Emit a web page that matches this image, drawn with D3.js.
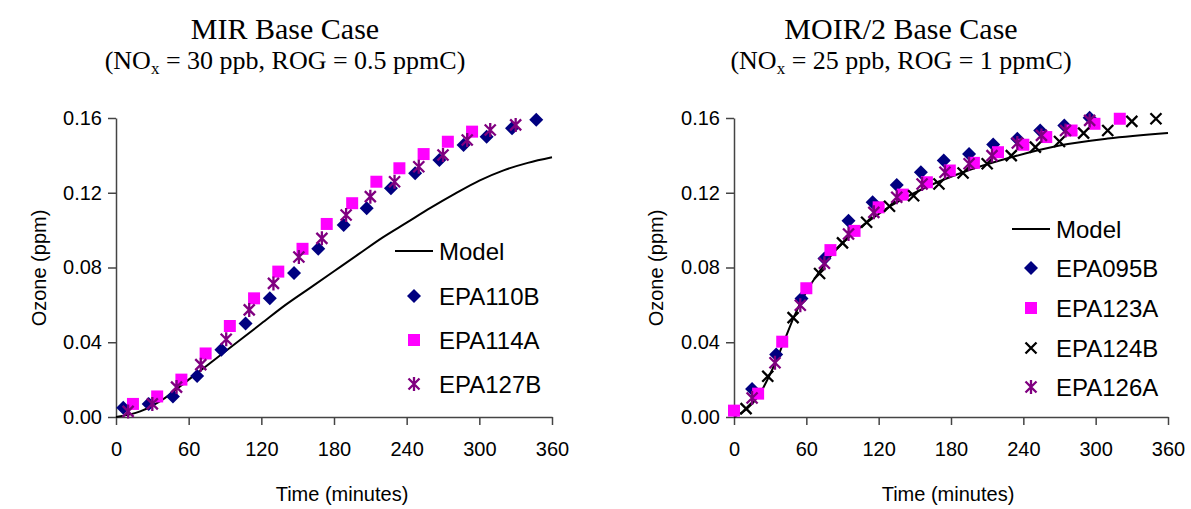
<!DOCTYPE html>
<html>
<head>
<meta charset="utf-8">
<script src="https://cdn.jsdelivr.net/npm/d3@7"></script>
<style>
  body { margin: 0; background: #fff; }
  text { font-family: "Liberation Sans", Arial, sans-serif; }
  .title { font-family: "Liberation Serif", "Times New Roman", serif; }
</style>
</head>
<body>
<div class="chart"></div>
<script>
// ---- data (time in minutes, ozone in ppm) ----
var xTicks = [0, 60, 120, 180, 240, 300, 360];
var yTicks = [0, 0.04, 0.08, 0.12, 0.16];

// MIR base case
var mirModelT = [0, 20, 40, 60, 80, 100, 120, 140, 160, 180, 200, 220, 240, 260, 280, 300, 320, 340, 360];
var mirModelV = [0, 0.003, 0.010, 0.020, 0.030, 0.040, 0.050, 0.060, 0.069, 0.078, 0.087, 0.096, 0.104, 0.112, 0.1195, 0.1265, 0.132, 0.136, 0.139];

var epa110bT = [6, 27, 47, 67, 87, 107, 127, 147, 167, 188, 207, 227, 247, 267, 287, 306, 327, 347];
var epa110bV = [0.005, 0.007, 0.011, 0.022, 0.036, 0.050, 0.0635, 0.077, 0.090, 0.1027, 0.1117, 0.1224, 0.1304, 0.1375, 0.1456, 0.150, 0.1545, 0.159];

var epa114aT = [14, 34, 54, 74, 94, 114, 134, 154, 174, 195, 215, 234, 254, 274, 294];
var epa114aV = [0.007, 0.011, 0.020, 0.034, 0.0487, 0.0635, 0.0778, 0.090, 0.1033, 0.1144, 0.1259, 0.1331, 0.1407, 0.1473, 0.1527];

var epa127bT = [10, 30, 50, 70, 91, 110, 130, 151, 170, 190, 210, 230, 250, 270, 290, 309, 330];
var epa127bV = [0.003, 0.007, 0.016, 0.028, 0.0416, 0.0573, 0.0715, 0.0856, 0.0956, 0.1081, 0.1179, 0.1259, 0.1339, 0.1402, 0.1482, 0.1536, 0.1563];

// MOIR/2 base case
var moirModelT = [0, 10, 20, 30, 40, 50, 60, 70, 80, 90, 100, 110, 130, 150, 170, 190, 230, 270, 310, 360];
var moirModelV = [0, 0.004, 0.011, 0.023, 0.038, 0.054, 0.067, 0.077, 0.086, 0.093, 0.099, 0.104, 0.113, 0.120, 0.126, 0.131, 0.139, 0.1453, 0.149, 0.152];

var epa095bT = [15, 35, 56, 75, 95, 115, 135, 155, 174, 195, 215, 235, 254, 274, 295];
var epa095bV = [0.015, 0.0334, 0.0634, 0.0848, 0.105, 0.1149, 0.1242, 0.131, 0.1372, 0.1407, 0.1458, 0.1489, 0.1533, 0.156, 0.1602];

var epa123aT = [0, 20, 40, 60, 80, 100, 120, 140, 160, 179, 199, 219, 240, 259, 280, 299, 320];
var epa123aV = [0.0034, 0.0125, 0.0403, 0.0689, 0.0893, 0.0996, 0.1122, 0.119, 0.1256, 0.1319, 0.136, 0.1417, 0.1457, 0.1498, 0.1533, 0.1569, 0.1596];

var epa124bT = [10, 28, 49, 71, 90, 110, 129, 149, 170, 190, 210, 230, 250, 270, 290, 310, 330, 350];
var epa124bV = [0.0045, 0.0218, 0.0532, 0.0768, 0.0932, 0.1042, 0.1128, 0.1184, 0.1247, 0.1306, 0.1355, 0.1399, 0.1444, 0.1474, 0.1519, 0.1533, 0.1582, 0.1596];

var epa126aT = [15, 34, 55, 75, 95, 116, 135, 156, 175, 195, 214, 235, 255, 275, 295];
var epa126aV = [0.0102, 0.029, 0.0598, 0.0823, 0.0979, 0.1095, 0.1176, 0.1247, 0.131, 0.1355, 0.1399, 0.1466, 0.1507, 0.1533, 0.1587];

function zipSeries(t, v) {
  return t.map(function(d, i) { return { t: d, v: v[i] }; });
}

// marker shapes
var markers = {
  diamond: { fill: "#000080", path: "M0,-7L7,0L0,7L-7,0Z" },
  square: { fill: "#FF00FF", path: "M-6,-6H6V6H-6Z" },
  cross: { stroke: "#000", path: "M-5.5,-5.5L5.5,5.5M-5.5,5.5L5.5,-5.5" },
  star: { stroke: "#800080", path: "M-5.5,-5.5L5.5,5.5M-5.5,5.5L5.5,-5.5M0,-7V7" }
};

function drawMarker(g, type, x, y) {
  var m = markers[type];
  var p = g.append("path")
    .attr("d", m.path)
    .attr("transform", "translate(" + x + "," + y + ")");
  if (m.fill) p.attr("fill", m.fill);
  else p.attr("fill", "none").attr("stroke", m.stroke).attr("stroke-width", 2.3);
}

var svg = d3.select(".chart").append("svg")
  .attr("width", 1191)
  .attr("height", 509);

function makePanel(opt) {
  var x = d3.scaleLinear().domain([0, 360]).range([opt.left, opt.right]);
  var y = d3.scaleLinear().domain([0, 0.16]).range([417, 118]);
  var g = svg.append("g");

  // titles
  g.append("text").attr("class", "title")
    .attr("x", opt.titleX).attr("y", 39)
    .attr("text-anchor", "middle")
    .attr("font-size", "30px")
    .text(opt.title);

  var sub = g.append("text").attr("class", "title")
    .attr("x", opt.titleX).attr("y", 69)
    .attr("text-anchor", "middle")
    .attr("font-size", "26px");
  sub.append("tspan").text("(NO");
  sub.append("tspan").attr("font-size", "17px").attr("dy", 5).text("x");
  sub.append("tspan").attr("dy", -5).text(opt.subtitle);

  // axes
  var xAxis = d3.axisBottom(x).tickValues(xTicks).tickSize(8).tickSizeOuter(0).tickPadding(17);
  var yAxis = d3.axisLeft(y).tickValues(yTicks).tickSize(8).tickSizeOuter(0).tickPadding(6)
    .tickFormat(d3.format(".2f"));

  var gx = g.append("g").attr("transform", "translate(0,417)").call(xAxis);
  var gy = g.append("g").attr("transform", "translate(" + opt.left + ",0)").call(yAxis);
  [gx, gy].forEach(function(a) {
    a.select(".domain").attr("stroke", "#444").attr("stroke-width", 1.5);
    a.selectAll(".tick line").attr("stroke", "#444").attr("stroke-width", 1.5);
    a.selectAll(".tick text")
      .attr("font-family", "Liberation Sans, Arial, sans-serif")
      .attr("font-size", "20px")
      .attr("fill", "#000");
  });

  g.append("text")
    .attr("transform", "translate(" + opt.yLabelX + ",268) rotate(-90)")
    .attr("text-anchor", "middle")
    .attr("font-size", "20px")
    .text("Ozone (ppm)");

  g.append("text")
    .attr("x", opt.xLabelX).attr("y", 501)
    .attr("text-anchor", "middle")
    .attr("font-size", "20px")
    .text("Time (minutes)");

  // model curve
  var line = d3.line()
    .x(function(d) { return x(d.t); })
    .y(function(d) { return y(d.v); })
    .curve(d3.curveMonotoneX);

  g.append("path")
    .datum(opt.model)
    .attr("d", line)
    .attr("fill", "none")
    .attr("stroke", "#000")
    .attr("stroke-width", 2);

  // observations
  opt.series.forEach(function(s) {
    var sg = g.append("g");
    s.data.forEach(function(d) { drawMarker(sg, s.marker, x(d.t), y(d.v)); });
  });

  // legend
  var lg = g.append("g");
  var ly = opt.legendY;
  lg.append("line")
    .attr("x1", opt.legendX - 19).attr("x2", opt.legendX + 19)
    .attr("y1", ly[0]).attr("y2", ly[0])
    .attr("stroke", "#000").attr("stroke-width", 2);
  lg.append("text")
    .attr("x", opt.legendX + 25).attr("y", ly[0]).attr("dy", "0.36em")
    .attr("font-size", "24px").text("Model");
  opt.series.forEach(function(s, i) {
    drawMarker(lg, s.marker, opt.legendX, ly[i + 1]);
    lg.append("text")
      .attr("x", opt.legendX + 25).attr("y", ly[i + 1]).attr("dy", "0.36em")
      .attr("font-size", "24px").text(s.name);
  });
}

makePanel({
  left: 116, right: 552,
  title: "MIR Base Case",
  subtitle: " = 30 ppb, ROG = 0.5 ppmC)",
  titleX: 285,
  yLabelX: 46, xLabelX: 342,
  model: zipSeries(mirModelT, mirModelV),
  series: [
    { name: "EPA110B", marker: "diamond", data: zipSeries(epa110bT, epa110bV) },
    { name: "EPA114A", marker: "square", data: zipSeries(epa114aT, epa114aV) },
    { name: "EPA127B", marker: "star", data: zipSeries(epa127bT, epa127bV) }
  ],
  legendX: 414,
  legendY: [251, 296, 340, 384]
});

makePanel({
  left: 734, right: 1168,
  title: "MOIR/2 Base Case",
  subtitle: " = 25 ppb, ROG = 1 ppmC)",
  titleX: 901,
  yLabelX: 663, xLabelX: 948,
  model: zipSeries(moirModelT, moirModelV),
  series: [
    { name: "EPA095B", marker: "diamond", data: zipSeries(epa095bT, epa095bV) },
    { name: "EPA123A", marker: "square", data: zipSeries(epa123aT, epa123aV) },
    { name: "EPA124B", marker: "cross", data: zipSeries(epa124bT, epa124bV) },
    { name: "EPA126A", marker: "star", data: zipSeries(epa126aT, epa126aV) }
  ],
  legendX: 1031,
  legendY: [229, 268, 308, 348, 387]
});
</script>
</body>
</html>
